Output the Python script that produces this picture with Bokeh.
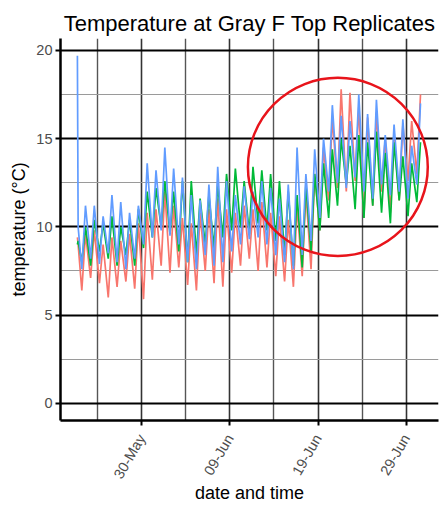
import math
import pandas as pd
from bokeh.plotting import figure
from bokeh.models import FixedTicker, Range1d, DatetimeTickFormatter
from bokeh.embed import file_html
from bokeh.resources import INLINE

# ---------------- data ----------------
title_text = "Temperature at Gray F Top Replicates"
x_label = "date and time"
y_label = "temperature (\u00b0C)"

# first two readings (deployment), then daily minimum / maximum
start_times = ["2019-05-22 17:00", "2019-05-22 19:00"]
start_red = [9.4, 9.0]
start_green = [9.0, 9.2]
start_blue = [19.7, 10.0]
day_first, day_last = "2019-05-23", "2019-06-30"
min_hour, max_hour = 5, 15

red_min = [6.4, 7.1, 6.8, 6.0, 6.6, 6.9, 6.5, 5.9, 7.0, 7.8, 7.4, 7.7, 6.7, 6.4, 7.5, 6.8, 6.6, 7.4, 7.8, 8.2,
           7.5, 7.7, 7.2, 6.9, 6.6, 7.2, 7.6, 9.8, 11.5, 12.2, 12.0, 12.6, 10.5, 11.2, 12.0, 10.8, 11.5, 12.6, 13.0]
red_max = [9.6, 9.8, 9.0, 9.4, 9.2, 9.6, 10.2, 10.8, 11.0, 12.0, 11.2, 10.5, 10.2, 10.8, 11.0, 11.6, 11.0, 10.8, 11.2, 11.0,
           11.4, 10.8, 10.6, 10.4, 11.2, 12.0, 13.0, 14.5, 16.2, 17.8, 17.6, 16.8, 16.2, 16.5, 15.0, 15.2, 15.8, 16.0, 17.5]
green_min = [8.0, 7.8, 8.6, 8.2, 7.8, 8.4, 7.8, 8.8, 9.4, 10.0, 9.6, 8.6, 8.0, 8.4, 9.0, 8.8, 9.4, 9.8, 10.0, 9.6,
             10.2, 9.8, 9.2, 8.4, 7.8, 7.7, 8.6, 9.8, 10.5, 11.2, 12.4, 11.0, 10.5, 11.2, 10.8, 10.2, 11.5, 10.6, 11.4]
green_max = [10.0, 10.4, 10.2, 10.6, 10.0, 10.4, 11.0, 12.0, 12.2, 12.6, 12.0, 12.6, 12.6, 11.6, 11.8, 12.4, 13.0, 13.3, 12.6, 13.4,
             13.2, 13.0, 12.6, 12.0, 11.8, 12.4, 13.0, 13.6, 14.4, 15.0, 14.6, 15.2, 14.8, 15.4, 14.2, 14.8, 14.0, 13.6, 14.8]
blue_min = [7.6, 8.2, 7.9, 8.5, 8.0, 7.6, 8.2, 9.0, 9.4, 9.8, 9.5, 9.0, 8.0, 7.6, 8.4, 7.8, 8.0, 8.6, 9.0, 9.3,
            9.4, 9.0, 8.4, 8.0, 7.6, 8.4, 9.2, 10.5, 12.0, 12.5, 12.2, 12.8, 12.0, 11.6, 12.4, 11.8, 12.0, 11.6, 12.4]
blue_max = [11.2, 11.2, 10.6, 11.8, 11.4, 10.8, 11.2, 13.6, 13.2, 14.5, 13.3, 12.8, 11.8, 11.5, 12.4, 13.4, 12.6, 11.8, 12.3, 12.0,
            12.6, 12.2, 11.6, 12.4, 14.5, 13.0, 14.4, 15.0, 16.9, 16.3, 16.0, 17.5, 16.4, 17.2, 15.2, 15.8, 16.1, 14.6, 17.0]

series_colors = ["#F8766D", "#00BA38", "#619CFF"]

x_major_dates = ["2019-05-30", "2019-06-09", "2019-06-19", "2019-06-29"]
x_major_labels = ["30-May", "09-Jun", "19-Jun", "29-Jun"]
x_minor_dates = ["2019-05-25", "2019-06-04", "2019-06-14", "2019-06-24"]
y_major = [0, 5, 10, 15, 20]
y_minor = [2.5, 7.5, 12.5, 17.5]

x_limits = ["2019-05-20 19:00", "2019-07-02 16:00"]
y_limits = [-0.98, 20.68]

# highlight circle (annotation)
circle_center = "2019-06-21 06:00"
circle_temp = 13.4
circle_days = 20.4
circle_height = 10.1


def ms(t):
    return pd.Timestamp(t).value / 1e6


days = pd.date_range(day_first, day_last, freq="D")
times = [pd.Timestamp(t) for t in start_times]
for d in days:
    times.append(d + pd.Timedelta(hours=min_hour))
    times.append(d + pd.Timedelta(hours=max_hour))


def interleave(first, mins, maxs):
    out = list(first)
    for a, b in zip(mins, maxs):
        out += [a, b]
    return out


series = [
    interleave(start_red, red_min, red_max),
    interleave(start_green, green_min, green_max),
    interleave(start_blue, blue_min, blue_max),
]

FONT = "Liberation Sans"

p = figure(width=440, height=507, x_axis_type="datetime",
           output_backend="svg", toolbar_location=None,
           x_range=Range1d(ms(x_limits[0]), ms(x_limits[1])),
           y_range=Range1d(*y_limits),
           min_border_left=60, min_border_right=2,
           min_border_top=38, min_border_bottom=87)

p.outline_line_color = None
p.background_fill_color = "white"
p.border_fill_color = "white"

p.title.text = title_text
p.title.align = "center"
p.title.text_font = FONT
p.title.text_font_size = "22px"
p.title.text_font_style = "normal"
p.title.text_color = "black"
p.title.standoff = 6

# axes
p.xaxis.ticker = FixedTicker(ticks=[ms(t) for t in x_major_dates],
                             minor_ticks=[ms(t) for t in x_minor_dates])
p.xaxis.formatter = DatetimeTickFormatter(days="%d-%b", months="%d-%b", years="%d-%b",
                                          hours="%d-%b", minutes="%d-%b")
p.xaxis.major_label_overrides = {ms(t): lab for t, lab in zip(x_major_dates, x_major_labels)}
p.xaxis.major_label_orientation = math.radians(60)
p.yaxis.ticker = FixedTicker(ticks=y_major, minor_ticks=y_minor)

for ax in (p.xaxis, p.yaxis):
    ax.axis_line_color = "black"
    ax.axis_line_width = 2.5
    ax.major_tick_line_color = "black"
    ax.major_tick_line_width = 2
    ax.major_tick_out = 5
    ax.major_tick_in = 0
    ax.minor_tick_line_color = None
    ax.major_label_text_font = FONT
    ax.major_label_text_font_size = "14.5px"
    ax.major_label_text_color = "#4D4D4D"
    ax.major_label_standoff = 3
    ax.axis_label_text_font = FONT
    ax.axis_label_text_font_size = "18px"
    ax.axis_label_text_font_style = "normal"
    ax.axis_label_text_color = "black"

p.xaxis.axis_label = x_label
p.yaxis.axis_label = y_label
p.yaxis.axis_label_standoff = 4
p.xaxis.major_label_standoff = 10
p.xaxis.axis_label_standoff = -5

# grids
p.ygrid.grid_line_color = "black"
p.ygrid.grid_line_width = 2
p.ygrid.minor_grid_line_color = "#9a9a9a"
p.ygrid.minor_grid_line_width = 1
p.xgrid.grid_line_color = "#333333"
p.xgrid.grid_line_width = 1.6
p.xgrid.minor_grid_line_color = "#555555"
p.xgrid.minor_grid_line_width = 1.4

for vals, col in zip(series, series_colors):
    p.line(times, vals, line_color=col, line_width=1.7)

p.ellipse(x=[ms(circle_center)], y=[circle_temp],
          width=[circle_days * 86400000], height=[circle_height],
          fill_color=None, line_color="#E8141B", line_width=2.5)

open("out.html", "w").write(file_html(p, INLINE))
